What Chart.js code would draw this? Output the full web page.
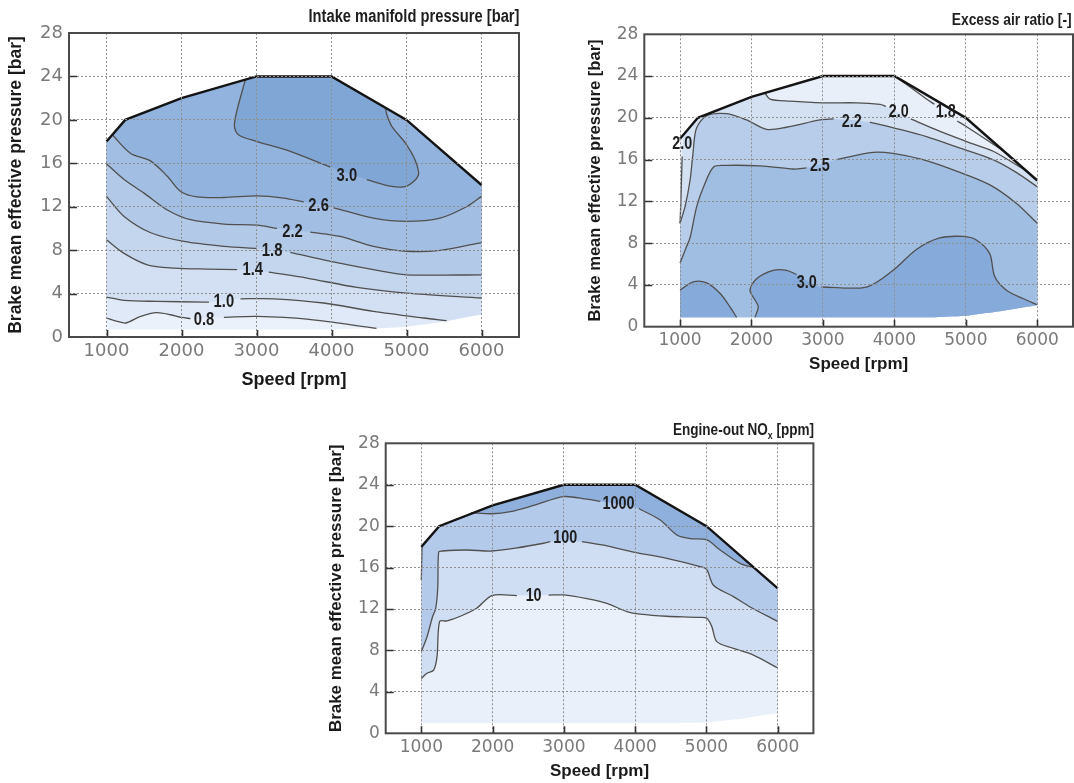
<!DOCTYPE html>
<html><head><meta charset="utf-8">
<script src="https://cdn.jsdelivr.net/npm/chart.js@4.4.1/dist/chart.umd.min.js"></script>
<style>
html,body{margin:0;padding:0;background:#fff;}
body{width:1074px;height:783px;position:relative;overflow:hidden;}
canvas{position:absolute;}
</style></head>
<body>
<canvas id="c1" width="540" height="392" style="left:0;top:0"></canvas>
<canvas id="c2" width="514" height="392" style="left:560px;top:0"></canvas>
<canvas id="c3" width="500" height="383" style="left:320px;top:400px"></canvas>
<script>
// ---------- shared axes / envelope ----------
const speedTicks = [1000, 2000, 3000, 4000, 5000, 6000];
const bmepTicks = [0, 4, 8, 12, 16, 20, 24, 28];
const fullLoadRpm = [1000, 1250, 2000, 3000, 4000, 5000, 6000];
const fullLoadBmep = [18, 20, 22, 24, 24, 20, 14];

// ---------- chart 1: intake manifold pressure [bar] ----------
const impFloor = [[1000,0.7],[4000,0.7],[4600,0.8],[5000,0.95],[5500,1.4],[6000,2.1]];
const imp30a = [[2852,23.7],[2741,20.9],[2706,19.4],[2763,18.6],[3007,18.0],[3450,17.1],[3893,15.9],[3983,15.65]];
const imp30b = [[4470,14.5],[4781,13.9],[5003,13.9],[5158,14.9],[5114,16.3],[4981,17.9],[4804,19.4],[4737,20.5],[4720,21.12]];
const imp26a = [[1080,18.6],[1323,16.9],[1590,16.2],[1811,14.8],[1988,13.4],[2210,12.9],[2565,12.85],[3008,13.0],[3361,12.8],[3630,12.45]];
const imp26b = [[4028,11.9],[4560,10.95],[5003,10.65],[5446,10.95],[5800,12.0],[6000,12.95]];
const imp22a = [[1000,15.95],[1235,14.5],[1500,13.25],[1811,11.7],[2121,10.8],[2565,10.4],[3008,10.3],[3274,10.0]];
const imp22b = [[3717,9.66],[4116,9.26],[4560,8.35],[5003,7.9],[5446,7.98],[6000,8.7]];
const imp18a = [[1000,12.95],[1235,11.1],[1590,9.6],[2033,8.8],[2565,8.35],[3000,8.16]];
const imp18b = [[3451,7.8],[3894,7.1],[4560,6.2],[5003,5.73],[6000,5.73]];
const imp14a = [[1000,8.96],[1235,7.7],[1545,6.65],[1900,6.35],[2343,6.25],[2742,6.2]];
const imp14b = [[3163,5.98],[3673,5.43],[4338,4.57],[5003,4.05],[6000,3.59]];
const imp10a = [[1000,3.68],[1235,3.37],[1678,3.28],[2299,3.22],[2366,3.22]];
const imp10b = [[2786,3.52],[3229,3.52],[3894,3.13],[4560,2.36],[5225,1.75],[5535,1.5]];
const imp08a = [[1000,1.75],[1146,1.44],[1257,1.29],[1456,1.9],[1669,2.25],[1855,2.05],[2000,1.8],[2120,1.7]];
const imp08b = [[2565,1.81],[3008,1.9],[3673,1.65],[4600,0.8]];
const impLabelText = ['3.0','2.6','2.2','1.8','1.4','1.0','0.8'];
const impLabelRpm  = [4205, 3828, 3480, 3208, 2950, 2565, 2300];
const impLabelBmep = [14.85, 12.1, 9.7, 7.9, 6.13, 3.22, 1.55];

// ---------- chart 2: excess air ratio [-] ----------
const lamFloor = [[1000,0.9],[4500,0.9],[5000,1.05],[5500,1.5],[6000,2.05]];
const lam20left = [[1000,9.9],[1012,12],[1022,14.5],[1030,16.3]];
const lam20a = [[2188,22.38],[2258,21.8],[2538,21.6],[3004,21.44],[3470,21.44],[3800,21.28],[3880,21.1]];
const lam20b = [[4230,19.9],[4640,18.7],[5100,17.5],[5384,16.8],[5850,14.9]];
const lam18a = [[4000,24],[4170,23.2],[4450,21.8],[4560,21.3]];
const lam18b = [[4880,19.7],[5000,19.2],[5290,17.9],[5570,16.6],[5680,15.92]];
const lam22a = [[1000,9.9],[1070,11.5],[1140,14],[1180,16.5],[1230,19],[1373,20.2],[1650,20.4],[1930,19.8],[2210,18.9],[2490,19.1],[2960,19.8],[3150,19.9]];
const lam22b = [[3656,19.6],[4076,18.9],[4450,18.2],[4920,17.1],[5380,16.0],[5700,14.8],[6000,13.4]];
const lam25a = [[1000,6.1],[1093,7.7],[1140,8.5],[1233,11.5],[1330,13.4],[1470,15.3],[1650,15.45],[2120,15.4],[2590,15.1],[2770,15.2]];
const lam25b = [[3190,16.0],[3700,16.7],[3980,16.6],[4400,16.0],[4870,14.9],[5330,13.6],[5710,11.8],[6000,9.9]];
const lam30left = [[1000,3.5],[1186,4.3],[1373,4.2],[1559,3.2],[1699,1.9],[1792,0.9]];
const lam30a = [[2049,0.9],[2095,1.9],[2049,2.56],[1979,3.5],[2072,4.6],[2305,5.4],[2491,5.4],[2631,5.0]];
const lam30b = [[2980,3.8],[3610,3.8],[3982,5.4],[4309,7.4],[4635,8.5],[4961,8.64],[5147,8.3],[5334,7.0],[5404,4.8],[5567,3.5],[5800,2.7],[6000,2.1]];
const lamLabelText = ['2.0','2.0','1.8','2.2','2.5','3.0'];
const lamLabelRpm  = [1030, 4060, 4720, 3402, 2957, 2773];
const lamLabelBmep = [17.5, 20.55, 20.5, 19.55, 15.35, 4.2];

// ---------- chart 3: engine-out NOx [ppm] ----------
const noxFloor = [[1000,1.0],[4500,1.0],[5000,1.05],[5500,1.4],[6000,1.95]];
const nox1000left = [[1000,14.8],[1005,16.5],[1010,18.1]];
const nox1000a = [[1700,21.3],[1991,21.2],[2248,21.4],[2575,22.0],[2995,22.85],[3322,22.6],[3510,22.4]];
const nox1000b = [[4050,21.7],[4351,20.6],[4584,19.15],[4771,18.8],[5005,18.67],[5192,17.7],[5472,16.4],[5660,16.0]];
const nox100a = [[1000,7.9],[1079,9.3],[1159,11.3],[1200,12],[1230,14],[1243,17.5],[1290,17.6],[1640,17.7],[1991,17.6],[2341,17.9],[2715,18.35],[2808,18.5]];
const nox100b = [[3252,18.5],[3603,18.1],[3977,17.5],[4444,16.9],[4911,16.1],[5005,15.8],[5098,14.3],[5378,13.2],[5612,12.2],[6000,10.8]];
const nox10a = [[1000,5.3],[1079,5.8],[1173,6.1],[1220,7.4],[1257,10.8],[1360,10.85],[1547,11.3],[1780,12.1],[1991,13.3],[2341,13.3]];
const nox10b = [[2785,13.35],[2995,13.36],[3322,13.0],[3603,12.55],[3883,11.75],[4070,11.5],[4444,11.3],[4911,11.2],[5005,11.1],[5075,10.3],[5145,8.85],[5378,8.2],[5659,7.55],[6000,6.3]];
const noxLabelText = ['1000','100','10'];
const noxLabelRpm  = [3766, 3019, 2575];
const noxLabelBmep = [22.1, 18.8, 13.2];

// ---------- helpers ----------
const fullLoad = fullLoadRpm.map((x, i) => [x, fullLoadBmep[i]]);
const pts = a => a.map(p => ({x: p[0], y: p[1]}));
const dup = a => a.flatMap(p => [p, p]);           // doubled vertex = sharp corner with tension
const ends = a => [a[0]].concat(a, [a[a.length - 1]]);
function envelope(floor) { return dup(fullLoad.concat(floor.slice().reverse())); }
function above(path, floor) {
  const x0 = path[0][0], xe = path[path.length - 1][0];
  const tail = floor ? floor.filter(p => p[0] > xe + 1) : [];
  const xmax = floor ? 1e9 : xe;
  const cap = fullLoad.filter(p => p[0] >= x0 && p[0] <= xmax).reverse();
  return ends(path).concat(dup(tail), dup(cap));
}
function below(path, floor) {
  const xe = path[path.length - 1][0];
  return ends(path).concat(dup(fullLoad.filter(p => p[0] > xe + 1)), dup(floor.slice().reverse()));
}
function blob(path, floor) {
  const x0 = path[0][0], xe = path[path.length - 1][0];
  return ends(path).concat(dup(floor.filter(p => p[0] >= x0 && p[0] < xe).reverse()));
}

const BOLD = '"Liberation Sans", Arial, sans-serif';
const NARROW_SX = 0.82;
const T = 0.3;

function condensed(ctx, text, x, y, sx) {
  ctx.save(); ctx.translate(x, y); ctx.scale(sx, 1); ctx.fillText(text, 0, 0); ctx.restore();
}

function makeChart(id, c) {
  const datasets = [];
  c.fills.forEach(f => datasets.push({data: pts(f[0]), fill: 'shape', backgroundColor: f[1],
    borderColor: 'rgba(0,0,0,0)', borderWidth: 0, pointRadius: 0, tension: T}));
  c.lines.forEach(s => datasets.push({data: pts(s), fill: false, borderColor: '#505050',
    borderWidth: 1.3, pointRadius: 0, tension: T}));
  datasets.push({data: pts(fullLoad), fill: false, borderColor: '#141414', borderWidth: 2.4,
    pointRadius: 0, tension: 0});
  datasets.forEach((d, i) => { d.order = datasets.length - i; d.clip = 4; });

  const deco = {
    id: 'deco',
    afterDraw(chart) {
      const ctx = chart.ctx, a = chart.chartArea, xs = chart.scales.x, ys = chart.scales.y;
      ctx.save();
      // contour labels
      ctx.fillStyle = '#1e1e1e';
      ctx.font = 'bold ' + c.labelSize + 'px ' + BOLD;
      ctx.textAlign = 'center'; ctx.textBaseline = 'middle';
      c.labels[0].forEach((t, i) => condensed(ctx, t, xs.getPixelForValue(c.labels[1][i]), ys.getPixelForValue(c.labels[2][i]), NARROW_SX));
      // inner tick marks
      ctx.strokeStyle = '#333'; ctx.lineWidth = 1.6;
      ctx.beginPath();
      speedTicks.forEach(v => { const x = Math.round(xs.getPixelForValue(v)) + 0.5; ctx.moveTo(x, a.bottom); ctx.lineTo(x, a.bottom - 7); });
      bmepTicks.slice(1, -1).forEach(v => { const y = Math.round(ys.getPixelForValue(v)) + 0.5; ctx.moveTo(a.left, y); ctx.lineTo(a.left + 8, y); });
      ctx.stroke();
      // frame
      ctx.strokeStyle = '#4a4a4a'; ctx.lineWidth = 2;
      ctx.strokeRect(a.left, a.top, a.right - a.left, a.bottom - a.top);
      // chart title (right aligned, condensed)
      ctx.fillStyle = '#1e1e1e';
      ctx.textBaseline = 'middle';
      ctx.textAlign = 'left';
      const big = 'bold ' + c.titleSize + 'px ' + BOLD;
      const small = 'bold ' + Math.round(c.titleSize * 0.62) + 'px ' + BOLD;
      let w = 0;
      c.title.forEach(p => { ctx.font = p.sub ? small : big; w += ctx.measureText(p.t).width; });
      const sx = c.titleW / w;
      let x = c.titleX - c.titleW;
      c.title.forEach(p => {
        ctx.font = p.sub ? small : big;
        condensed(ctx, p.t, x, c.titleY + (p.sub ? 5 : 0), sx);
        x += ctx.measureText(p.t).width * sx;
      });
      ctx.restore();
    }
  };

  new Chart(document.getElementById(id), {
    type: 'line',
    data: {datasets},
    plugins: [deco],
    options: {
      responsive: false, animation: false, devicePixelRatio: 1,
      layout: {padding: {top: c.top, right: c.right, left: 0, bottom: 0}},
      plugins: {legend: {display: false}, tooltip: {enabled: false}, title: {display: false}},
      scales: {
        x: {type: 'linear', min: 500, max: 6500,
          afterBuildTicks: s => { s.ticks = speedTicks.map(v => ({value: v})); },
          afterFit: s => { s.height = c.xh; },
          grid: {color: '#8f8f8f', lineWidth: 1, drawTicks: false, z: 1},
          border: {display: false, dash: [2, 2]},
          ticks: {font: {family: 'DejaVu Sans', size: c.tickSize}, color: '#7a7a7a', padding: c.xPad, maxRotation: 0,
            callback: v => String(v)},
          title: {display: true, text: 'Speed [rpm]', color: '#1a1a1a',
            font: {family: BOLD, weight: 'bold', size: c.xtSize, lineHeight: 1.2},
            padding: {top: 0, bottom: c.xtPad}}},
        y: {type: 'linear', min: 0, max: 28,
          afterBuildTicks: s => { s.ticks = bmepTicks.map(v => ({value: v})); },
          afterFit: s => { s.width = c.yw; },
          grid: {color: '#8f8f8f', lineWidth: 1, drawTicks: false, z: 1},
          border: {display: false, dash: [2, 2]},
          ticks: {font: {family: 'DejaVu Sans', size: c.tickSize}, color: '#7a7a7a', padding: 6,
            callback: v => String(v)},
          title: {display: true, text: 'Brake mean effective pressure [bar]', color: '#1a1a1a',
            font: {family: BOLD, weight: 'bold', size: c.ytSize, lineHeight: 1.2},
            padding: {top: c.ytPad, bottom: 0}}}
      }
    }
  });
}

// ---------- chart 1 ----------
const imp30 = imp30a.concat(imp30b), imp26 = imp26a.concat(imp26b), imp22 = imp22a.concat(imp22b),
      imp18 = imp18a.concat(imp18b), imp14 = imp14a.concat(imp14b), imp10 = imp10a.concat(imp10b),
      imp08 = imp08a.concat(imp08b);
makeChart('c1', {
  fills: [
    [envelope(impFloor), '#ebf1fa'],
    [above(imp08, impFloor), '#e0e9f7'],
    [above(imp10, impFloor), '#d3e0f3'],
    [above(imp14), '#c3d6ee'],
    [above(imp18), '#b2cae8'],
    [above(imp22), '#a2bee2'],
    [above(imp26), '#92b3dd'],
    [above(imp30), '#80a6d6']
  ],
  lines: [imp30a, imp30b, imp26a, imp26b, imp22a, imp22b, imp18a, imp18b, imp14a, imp14b, imp10a, imp10b, imp08a, imp08b],
  labels: [impLabelText, impLabelRpm, impLabelBmep], labelSize: 18,
  title: [{t: 'Intake manifold pressure [bar]'}], titleSize: 18, titleW: 211, titleX: 519.5, titleY: 16.7,
  top: 33, right: 21, xh: 55, yw: 69, tickSize: 18, xPad: 4, xtSize: 18, xtPad: 1.2, ytSize: 17.5, ytPad: 6
});

// ---------- chart 2 ----------
const lam20 = lam20left.concat(dup([[1045, 18.36]]), dup(fullLoad.filter(p => p[0] > 1045 && p[0] < 2188)), lam20a, lam20b);
const lam22 = lam22a.concat(lam22b), lam25 = lam25a.concat(lam25b), lam30 = lam30a.concat(lam30b);
makeChart('c2', {
  fills: [
    [envelope(lamFloor), '#e8eff9'],
    [below(lam20, lamFloor), '#d3e1f3'],
    [below(lam22, lamFloor), '#b7cdea'],
    [below(lam25, lamFloor), '#a0bde2'],
    [blob(lam30left, lamFloor), '#86aad9'],
    [blob(lam30, lamFloor), '#86aad9']
  ],
  lines: [lam20left, lam20a, lam20b, lam18a, lam18b, lam22a, lam22b, lam25a, lam25b, lam30left, lam30a, lam30b],
  labels: [lamLabelText, lamLabelRpm, lamLabelBmep], labelSize: 17.5,
  title: [{t: 'Excess air ratio [-]'}], titleSize: 17, titleW: 120, titleX: 511.7, titleY: 20.7,
  top: 34.3, right: 1, xh: 65.3, yw: 84.3, tickSize: 17, xPad: 4, xtSize: 17, xtPad: 17, ytSize: 16.6, ytPad: 25
});

// ---------- chart 3 ----------
const nox1000 = nox1000a.concat(nox1000b), nox100 = nox100a.concat(nox100b), nox10 = nox10a.concat(nox10b);
makeChart('c3', {
  fills: [
    [envelope(noxFloor), '#e9f0f9'],
    [above(nox10), '#cfdef2'],
    [above(nox100), '#b3caea'],
    [above(nox1000), '#8fb0dc']
  ],
  lines: [nox1000left, nox1000a, nox1000b, nox100a, nox100b, nox10a, nox10b],
  labels: [noxLabelText, noxLabelRpm, noxLabelBmep], labelSize: 17.5,
  title: [{t: 'Engine-out NO'}, {t: 'x', sub: true}, {t: ' [ppm]'}], titleSize: 17, titleW: 141, titleX: 494, titleY: 30.7,
  top: 43.3, right: 6.6, xh: 49.7, yw: 65.7, tickSize: 17, xPad: 4.5, xtSize: 17, xtPad: 1.2, ytSize: 16.9, ytPad: 6.6
});
</script>
</body></html>
